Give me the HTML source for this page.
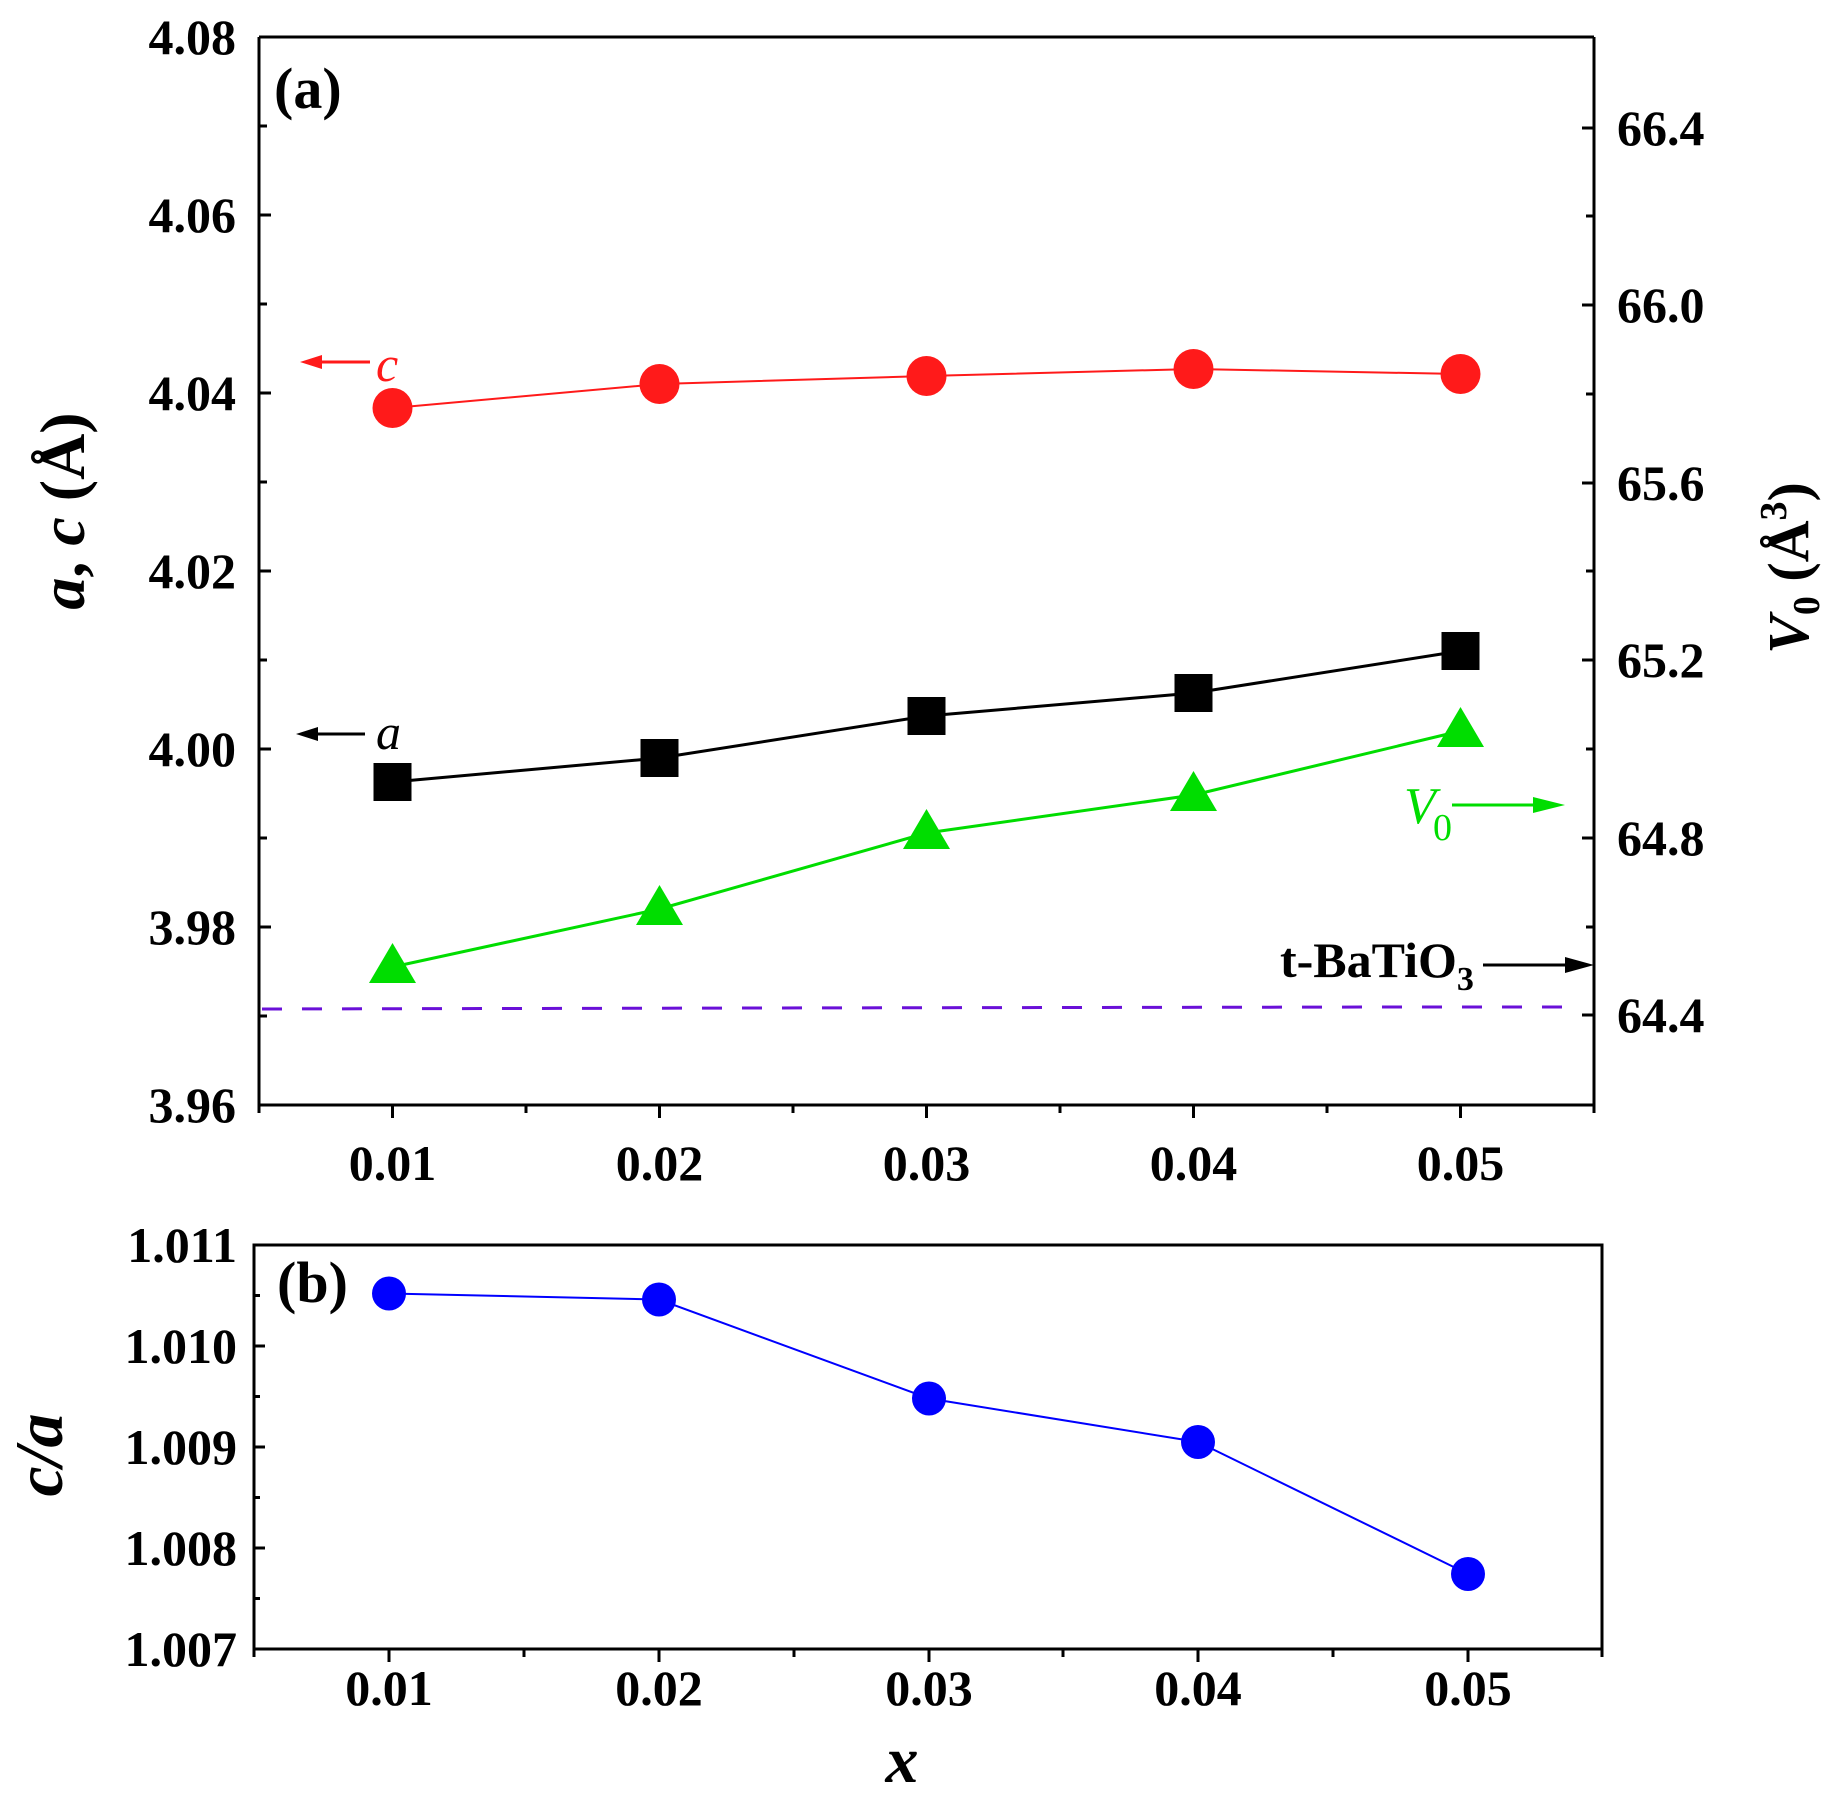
<!DOCTYPE html>
<html><head><meta charset="utf-8"><style>
html,body{margin:0;padding:0;background:#fff;}
svg{display:block;}
text{font-family:"Liberation Serif","Times New Roman",serif;}
</style></head><body>
<svg width="1830" height="1804" viewBox="0 0 1830 1804" xmlns="http://www.w3.org/2000/svg">
<!-- ===== TOP PLOT ===== -->
<g stroke="#000" stroke-width="3" fill="none">
<path d="M259,37 V1105 H1594 V37"/>
<line x1="259" y1="37" x2="1594" y2="37"/>
<path d="M259,37h12 M259,215h12 M259,393h12 M259,571h12 M259,749h12 M259,927h12 M259,1105h12"/>
<path d="M259,126h8 M259,304h8 M259,482h8 M259,660h8 M259,838h8 M259,1016h8"/>
<path d="M1594,128h-12 M1594,305h-12 M1594,483h-12 M1594,660h-12 M1594,838h-12 M1594,1015h-12"/>
<path d="M1594,216h-8 M1594,394h-8 M1594,571h-8 M1594,749h-8 M1594,927h-8"/>
<path d="M392.5,1105v13 M659.5,1105v13 M926.5,1105v13 M1193.5,1105v13 M1460.5,1105v13"/>
<path d="M259,1105v8 M526,1105v8 M793,1105v8 M1060,1105v8 M1327,1105v8 M1594,1105v8"/>
</g>
<g font-weight="bold" font-size="50" text-anchor="end">
<text x="236" y="54">4.08</text>
<text x="236" y="232">4.06</text>
<text x="236" y="410">4.04</text>
<text x="236" y="588">4.02</text>
<text x="236" y="766">4.00</text>
<text x="236" y="944">3.98</text>
<text x="236" y="1122">3.96</text>
</g>
<g font-weight="bold" font-size="50" text-anchor="start">
<text x="1617" y="145">66.4</text>
<text x="1617" y="322">66.0</text>
<text x="1617" y="500">65.6</text>
<text x="1617" y="677">65.2</text>
<text x="1617" y="855">64.8</text>
<text x="1617" y="1032">64.4</text>
</g>
<g font-weight="bold" font-size="50" text-anchor="middle">
<text x="392.5" y="1180">0.01</text>
<text x="659.5" y="1180">0.02</text>
<text x="926.5" y="1180">0.03</text>
<text x="1193.5" y="1180">0.04</text>
<text x="1460.5" y="1180">0.05</text>
</g>
<text x="274" y="108" font-weight="bold" font-size="58">(a)</text>
<text transform="translate(84,511) rotate(-90)" text-anchor="middle" font-weight="bold" font-size="64"><tspan font-style="italic">a</tspan>, <tspan font-style="italic">c</tspan> (Å)</text>
<text transform="translate(1808,568) rotate(-90)" text-anchor="middle" font-weight="bold" font-size="58"><tspan font-style="italic">V</tspan><tspan font-size="38" dy="11">0</tspan><tspan dy="-11"> (Å</tspan><tspan font-size="38" dy="-22">3</tspan><tspan dy="22">)</tspan></text>

<path d="M262,1009 L760,1008 L1400,1007 L1564,1007" stroke="#6a10d8" stroke-width="3" fill="none" stroke-dasharray="20,20"/>

<polyline points="392.5,408 659.5,384 926.5,376 1193.5,369 1460.5,374" stroke="#ff1a1a" stroke-width="2" fill="none"/>
<g fill="#ff1a1a">
<circle cx="392.5" cy="408" r="20"/><circle cx="659.5" cy="384" r="20"/><circle cx="926.5" cy="376" r="20"/><circle cx="1193.5" cy="369" r="20"/><circle cx="1460.5" cy="374" r="20"/>
</g>
<polyline points="392.5,782 659.5,758 926.5,716 1193.5,693 1460.5,651" stroke="#000" stroke-width="3" fill="none"/>
<g fill="#000">
<rect x="373.5" y="763" width="38" height="38"/><rect x="640.5" y="739" width="38" height="38"/><rect x="907.5" y="697" width="38" height="38"/><rect x="1174.5" y="674" width="38" height="38"/><rect x="1441.5" y="632" width="38" height="38"/>
</g>
<polyline points="392.5,967 659.5,909 926.5,833 1193.5,795 1460.5,731" stroke="#00dd00" stroke-width="3" fill="none"/>
<g fill="#00dd00">
<polygon points="392.5,943 416,983 369,983"/>
<polygon points="659.5,885 683,925 636,925"/>
<polygon points="926.5,809 950,849 903,849"/>
<polygon points="1193.5,771 1217,811 1170,811"/>
<polygon points="1460.5,707 1484,747 1437,747"/>
</g>

<line x1="370" y1="362" x2="315" y2="362" stroke="#ff1a1a" stroke-width="3"/>
<polygon points="300,362 322,355 322,369" fill="#ff1a1a"/>
<text x="376" y="381" font-style="italic" font-size="50" fill="#ff1a1a">c</text>
<line x1="365" y1="734" x2="312" y2="734" stroke="#000" stroke-width="3"/>
<polygon points="296,734 318,727 318,741" fill="#000"/>
<text x="376" y="749" font-style="italic" font-size="50" fill="#000">a</text>
<text x="1404" y="823" font-style="italic" font-size="52" fill="#00dd00">V</text>
<text x="1433" y="840" font-size="38" fill="#00dd00">0</text>
<line x1="1452" y1="805" x2="1545" y2="805" stroke="#00dd00" stroke-width="3"/>
<polygon points="1565,805 1533,797 1533,813" fill="#00dd00"/>
<text x="1280" y="977" font-weight="bold" font-size="50">t-BaTiO<tspan font-size="34" dy="13">3</tspan></text>
<line x1="1483" y1="965" x2="1575" y2="965" stroke="#000" stroke-width="3"/>
<polygon points="1594,965 1565,957 1565,973" fill="#000"/>

<!-- ===== BOTTOM PLOT ===== -->
<g stroke="#000" stroke-width="3" fill="none">
<rect x="254" y="1245" width="1348" height="404"/>
<path d="M254,1245h11 M254,1346h11 M254,1447h11 M254,1548h11 M254,1649h11"/>
<path d="M254,1295.5h6 M254,1396.5h6 M254,1497.5h6 M254,1598.5h6"/>
<path d="M389,1649v13 M659,1649v13 M929,1649v13 M1198,1649v13 M1468,1649v13"/>
<path d="M254,1649v8 M524,1649v8 M794,1649v8 M1063,1649v8 M1333,1649v8 M1602,1649v8"/>
</g>
<g font-weight="bold" font-size="50" text-anchor="end">
<text x="237" y="1262">1.011</text>
<text x="237" y="1363">1.010</text>
<text x="237" y="1464">1.009</text>
<text x="237" y="1565">1.008</text>
<text x="237" y="1666">1.007</text>
</g>
<g font-weight="bold" font-size="50" text-anchor="middle">
<text x="389" y="1705">0.01</text>
<text x="659" y="1705">0.02</text>
<text x="929" y="1705">0.03</text>
<text x="1198" y="1705">0.04</text>
<text x="1468" y="1705">0.05</text>
</g>
<text x="277" y="1302" font-weight="bold" font-size="58">(b)</text>
<text transform="translate(62,1455) rotate(-90)" text-anchor="middle" font-weight="bold" font-style="italic" font-size="68">c/a</text>
<text x="902" y="1782" text-anchor="middle" font-weight="bold" font-style="italic" font-size="66">x</text>
<polyline points="389,1293.5 659,1299.5 929,1398.5 1198,1442 1468,1574" stroke="#0000ff" stroke-width="2" fill="none"/>
<g fill="#0000ff">
<circle cx="389" cy="1293.5" r="17"/><circle cx="659" cy="1299.5" r="17"/><circle cx="929" cy="1398.5" r="17"/><circle cx="1198" cy="1442" r="17"/><circle cx="1468" cy="1574" r="17"/>
</g>
</svg>
</body></html>
